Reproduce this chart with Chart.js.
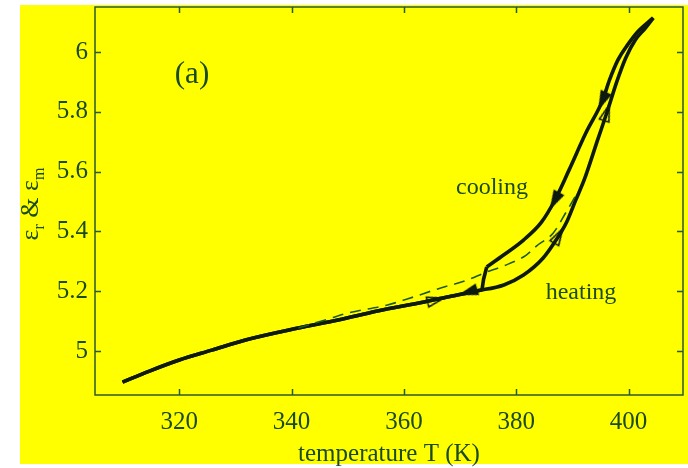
<!DOCTYPE html>
<html>
<head>
<meta charset="utf-8">
<script src="https://cdn.jsdelivr.net/npm/chart.js@4/dist/chart.umd.min.js"></script>
<style>
  html, body { margin: 0; padding: 0; background: #ffffff; }
  canvas { display: block; }
</style>
</head>
<body>
<canvas id="permittivity" width="688" height="468"></canvas>
<script>
// heating branch (T in K, permittivity)
const tHeat = [309.9, 314.7, 320.0, 325.8, 331.8, 341.2, 348.3, 355.3, 363.6, 368.6, 373.0, 377.8, 381.3, 384.8, 387.1, 388.9, 390.6, 392.1, 394.5, 396.3, 397.9, 399.5, 401.2, 403.0, 404.4];
const epsHeat = [4.896, 4.933, 4.970, 5.003, 5.037, 5.077, 5.104, 5.134, 5.164, 5.184, 5.201, 5.221, 5.254, 5.311, 5.371, 5.428, 5.505, 5.572, 5.706, 5.806, 5.900, 5.980, 6.040, 6.080, 6.114];

// cooling branch below the jump (shares the heating path)
const tCoolLow = [309.9, 314.7, 320.0, 325.8, 331.8, 341.2, 348.3, 355.3, 363.6, 368.6, 373.0, 373.9];
const epsCoolLow = [4.896, 4.933, 4.970, 5.003, 5.037, 5.077, 5.104, 5.134, 5.164, 5.184, 5.201, 5.204];
// the jump itself
const tCoolStep = [373.9, 374.2, 374.75];
const epsCoolStep = [5.204, 5.241, 5.281];
// cooling branch above the jump
const tCoolHigh = [374.75, 377.75, 381.3, 384.5, 386.9, 389.4, 392.4, 395.4, 396.6, 398.1, 399.8, 401.6, 404.4];
const epsCoolHigh = [5.281, 5.321, 5.371, 5.431, 5.505, 5.605, 5.729, 5.839, 5.906, 5.973, 6.023, 6.067, 6.114];

// dashed curve
const tDash = [341.2, 346.0, 350.0, 357.1, 360.6, 365.9, 371.2, 374.7, 377.7, 381.8, 383.6, 386.6, 388.9, 390.6];
const epsDash = [5.077, 5.104, 5.127, 5.154, 5.174, 5.207, 5.237, 5.264, 5.284, 5.321, 5.351, 5.395, 5.465, 5.520];

// direction arrows
const tArrCool = [395.4, 386.9, 371.6];
const epsArrCool = [5.839, 5.505, 5.198];
const rotArrCool = [204, 208, 253];
const tArrHeat = [396.1, 387.5, 365.6];
const epsArrHeat = [5.796, 5.384, 5.170];
const rotArrHeat = [18, 30, 76];

const xTicks = [320, 340, 360, 380, 400];
const yTicks = [5, 5.2, 5.4, 5.6, 5.8, 6];

const ink = '#0d1a0d';
const textGreen = '#1b4a1f';
const frameGreen = '#2a5a33';
const yellow = '#ffff00';
const serif = "'Liberation Serif', 'DejaVu Serif', serif";

function pts(xs, ys) {
  return xs.map((x, i) => ({ x: x, y: ys[i] }));
}

function curve(label, xs, ys, extra) {
  return Object.assign({
    label: label,
    data: pts(xs, ys),
    showLine: true,
    borderColor: ink,
    borderWidth: 3.6,
    pointRadius: 0,
    cubicInterpolationMode: 'monotone'
  }, extra || {});
}

// small arrowhead sprites, pointing up before rotation
function arrowHead(filled) {
  const c = document.createElement('canvas');
  c.width = 13; c.height = 19;
  const g = c.getContext('2d');
  g.beginPath();
  g.moveTo(6.5, 1);
  g.lineTo(11.5, 17.5);
  g.lineTo(1.5, 17.5);
  g.closePath();
  g.fillStyle = filled ? ink : yellow;
  g.fill();
  g.lineWidth = 1.6;
  g.strokeStyle = ink;
  g.stroke();
  return c;
}
const arrowFilled = arrowHead(true);
const arrowOpen = arrowHead(false);

const decorations = {
  id: 'decorations',
  beforeDraw(chart) {
    const ctx = chart.ctx;
    ctx.save();
    ctx.fillStyle = yellow;
    ctx.fillRect(20, 5, 668, 459);
    ctx.restore();
  },
  afterDraw(chart) {
    const ctx = chart.ctx;
    const a = chart.chartArea;
    const xs = chart.scales.x, ys = chart.scales.y;
    ctx.save();
    ctx.strokeStyle = frameGreen;
    ctx.lineWidth = 1.5;
    ctx.strokeRect(a.left, a.top, a.right - a.left, a.bottom - a.top);
    // inward ticks on all four sides
    ctx.beginPath();
    xTicks.forEach(v => {
      const px = Math.round(xs.getPixelForValue(v)) + 0.5;
      ctx.moveTo(px, a.bottom); ctx.lineTo(px, a.bottom - 6);
      ctx.moveTo(px, a.top); ctx.lineTo(px, a.top + 6);
    });
    yTicks.forEach(v => {
      const py = Math.round(ys.getPixelForValue(v)) + 0.5;
      ctx.moveTo(a.left, py); ctx.lineTo(a.left + 6, py);
      ctx.moveTo(a.right, py); ctx.lineTo(a.right - 6, py);
    });
    ctx.stroke();

    ctx.fillStyle = textGreen;
    ctx.textAlign = 'center';
    ctx.textBaseline = 'middle';
    ctx.font = '31px ' + serif;
    ctx.fillText('(a)', 192, 75);
    ctx.font = '24px ' + serif;
    ctx.fillText('cooling', 492, 188);
    ctx.fillText('heating', 581, 293);

    // y axis label with subscripts, rotated
    ctx.translate(38, 204);
    ctx.rotate(-Math.PI / 2);
    ctx.textAlign = 'left';
    ctx.textBaseline = 'alphabetic';
    const parts = [['\u03b5', 26, 0], ['r', 16, 6], [' & ', 26, 0], ['\u03b5', 26, 0], ['m', 16, 6]];
    let w = 0;
    parts.forEach(p => { ctx.font = p[1] + 'px ' + serif; w += ctx.measureText(p[0]).width; });
    let cx = -w / 2;
    parts.forEach(p => {
      ctx.font = p[1] + 'px ' + serif;
      ctx.fillText(p[0], cx, p[2]);
      cx += ctx.measureText(p[0]).width;
    });
    ctx.restore();
  }
};

new Chart(document.getElementById('permittivity'), {
  type: 'scatter',
  data: {
    datasets: [
      curve('dashed', tDash, epsDash, { borderColor: '#1f5a25', borderWidth: 1.6, borderDash: [11, 7] }),
      curve('heating', tHeat, epsHeat),
      curve('cooling low', tCoolLow, epsCoolLow),
      curve('cooling jump', tCoolStep, epsCoolStep, { cubicInterpolationMode: 'default', tension: 0 }),
      curve('cooling high', tCoolHigh, epsCoolHigh),
      {
        label: 'cooling arrows',
        data: pts(tArrCool, epsArrCool),
        showLine: false,
        pointStyle: arrowFilled,
        rotation: rotArrCool
      },
      {
        label: 'heating arrows',
        data: pts(tArrHeat, epsArrHeat),
        showLine: false,
        pointStyle: arrowOpen,
        rotation: rotArrHeat
      }
    ]
  },
  options: {
    responsive: false,
    animation: false,
    devicePixelRatio: 1,
    layout: { padding: { left: 20, top: 7, right: 0, bottom: 1 } },
    plugins: {
      legend: { display: false },
      tooltip: { enabled: false }
    },
    scales: {
      x: {
        type: 'linear',
        min: 305,
        max: 409.7,
        afterBuildTicks: s => { s.ticks = xTicks.map(v => ({ value: v })); },
        afterFit: s => { s.height = 72; s.paddingLeft = 0; s.paddingRight = 0; },
        grid: { display: false, drawTicks: false },
        border: { display: false },
        ticks: {
          color: textGreen,
          padding: 12,
          maxRotation: 0,
          font: { family: serif, size: 25 }
        },
        title: {
          display: true,
          text: 'temperature T (K)',
          color: textGreen,
          padding: { top: 0, bottom: 0 },
          font: { family: serif, size: 25, lineHeight: 1 }
        }
      },
      y: {
        type: 'linear',
        min: 4.853,
        max: 6.1505,
        afterBuildTicks: s => { s.ticks = yTicks.map(v => ({ value: v })); },
        afterFit: s => { s.width = 75; s.paddingTop = 0; s.paddingBottom = 0; },
        grid: { display: false, drawTicks: false },
        border: { display: false },
        ticks: {
          color: textGreen,
          padding: 7,
          font: { family: serif, size: 25 },
          callback: v => String(Math.round(v * 10) / 10)
        }
      }
    }
  },
  plugins: [decorations]
});
</script>
</body>
</html>
